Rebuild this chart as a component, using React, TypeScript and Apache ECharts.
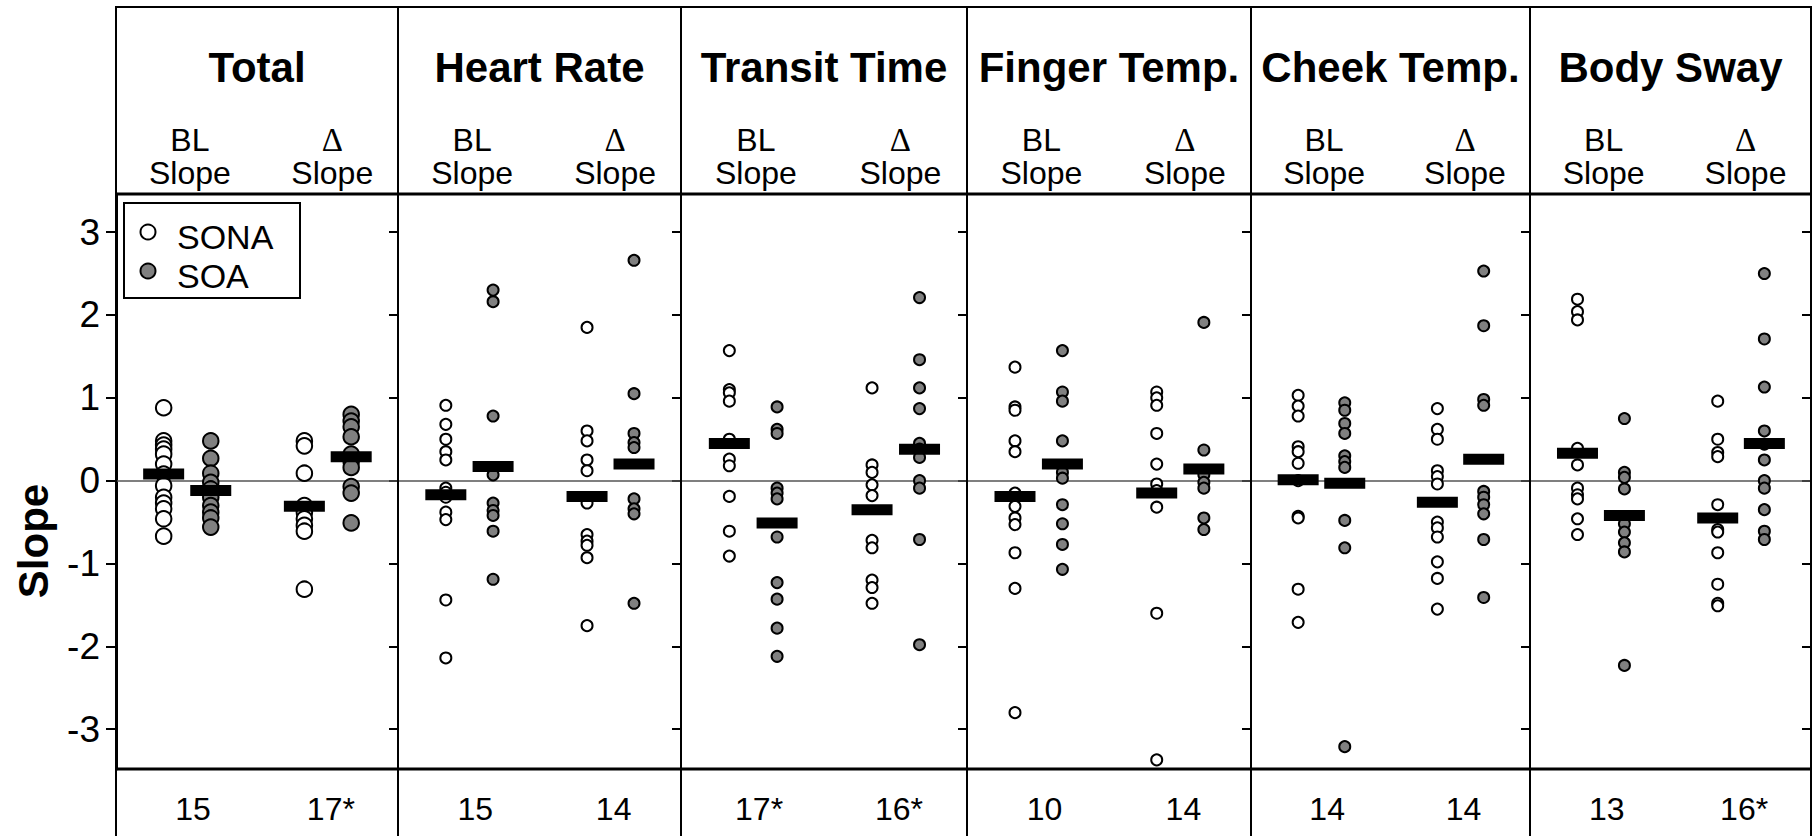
import React, { useEffect, useRef } from 'react';
import * as echarts from 'echarts';

// ---------------- data ----------------
const PANELS = ['Total', 'Heart Rate', 'Transit Time', 'Finger Temp.', 'Cheek Temp.', 'Body Sway'];
const GROUPS = ['SONA', 'SOA'];
const COLUMN_HEADS = ['BL', 'Δ'];
const COLUMN_SUB = 'Slope';
const Y_NAME = 'Slope';
const Y_TICKS = [-3, -2, -1, 0, 1, 2, 3];
const COUNTS = [
  ['15', '17*'],
  ['15', '14'],
  ['17*', '16*'],
  ['10', '14'],
  ['14', '14'],
  ['13', '16*'],
];

const BL_SONA = [
  [0.88, 0.48, 0.43, 0.38, 0.32, 0.2, 0.08, -0.06, -0.2, -0.27, -0.34, -0.46, -0.67],
  [0.91, 0.68, 0.5, 0.35, 0.25, -0.09, -0.14, -0.2, -0.38, -0.47, -1.44, -2.14],
  [1.57, 1.1, 1.06, 0.96, 0.5, 0.26, 0.18, -0.19, -0.61, -0.91],
  [1.37, 0.89, 0.85, 0.48, 0.35, -0.15, -0.31, -0.45, -0.53, -0.87, -1.3, -2.8],
  [1.03, 0.9, 0.78, 0.41, 0.35, 0.21, 0.0, -0.43, -0.45, -1.31, -1.71],
  [2.19, 2.04, 1.94, 0.39, 0.19, -0.09, -0.17, -0.22, -0.46, -0.65],
];
const BL_SOA = [
  [0.48, 0.27, 0.09, -0.02, -0.1, -0.2, -0.3, -0.38, -0.45, -0.56],
  [2.3, 2.16, 0.78, 0.07, -0.27, -0.36, -0.42, -0.61, -1.19],
  [0.89, 0.62, 0.57, -0.09, -0.15, -0.22, -0.68, -1.23, -1.43, -1.78, -2.12],
  [1.57, 1.07, 0.96, 0.48, 0.1, 0.03, -0.29, -0.52, -0.77, -1.07],
  [0.94, 0.85, 0.69, 0.57, 0.3, 0.23, 0.16, -0.48, -0.81, -3.21],
  [0.75, 0.1, 0.04, -0.1, -0.52, -0.62, -0.75, -0.86, -2.23],
];
const DELTA_SONA = [
  [0.48, 0.42, 0.09, -0.3, -0.38, -0.46, -0.54, -0.61, -1.31],
  [1.85, 0.6, 0.48, 0.25, 0.12, -0.27, -0.65, -0.73, -0.78, -0.93, -1.75],
  [1.12, 0.19, 0.1, -0.05, -0.18, -0.72, -0.81, -1.2, -1.29, -1.48],
  [1.07, 1.0, 0.91, 0.57, 0.2, -0.04, -0.12, -0.32, -1.6, -3.37],
  [0.87, 0.62, 0.5, 0.12, 0.05, -0.04, -0.5, -0.57, -0.68, -0.98, -1.18, -1.55],
  [0.96, 0.5, 0.34, 0.29, -0.29, -0.59, -0.62, -0.87, -1.25, -1.48, -1.51],
];
const DELTA_SOA = [
  [0.8, 0.72, 0.65, 0.53, 0.32, 0.23, 0.16, -0.07, -0.15, -0.51],
  [2.66, 1.05, 0.57, 0.46, 0.4, -0.22, -0.34, -0.4, -1.48],
  [2.21, 1.46, 1.12, 0.87, 0.45, 0.38, 0.28, 0.0, -0.09, -0.71, -1.98],
  [1.91, 0.37, 0.07, -0.02, -0.09, -0.45, -0.59],
  [2.53, 1.87, 0.98, 0.91, -0.13, -0.2, -0.29, -0.4, -0.71, -1.41],
  [2.5, 1.71, 1.13, 0.6, 0.44, 0.25, 0.0, -0.09, -0.35, -0.61, -0.71],
];
// group means: [BL SONA, BL SOA, Δ SONA, Δ SOA]
const MEANS = [
  [0.08, -0.12, -0.31, 0.29],
  [-0.17, 0.17, -0.19, 0.2],
  [0.45, -0.51, -0.35, 0.38],
  [-0.19, 0.2, -0.15, 0.14],
  [0.01, -0.03, -0.26, 0.26],
  [0.33, -0.42, -0.45, 0.45],
];

// ---------------- layout ----------------
const W = 1818;
const H = 836;
const EDGES = [116, 398, 681, 967, 1251, 1530, 1811];
const FRAME_TOP = 7;
const PLOT_TOP = 194;
const PLOT_BOTTOM = 769;
const Y_MIN = -3.48;
const Y_MAX = 3.46;
const COL_X = [0.169, 0.336, 0.668, 0.834];
const HEAD_X = [0.262, 0.767];
const COUNT_X = [0.273, 0.762];
const FONT = '"Liberation Sans", Arial, Helvetica, sans-serif';
const SERIF = '"Liberation Serif", "DejaVu Serif", serif';
const GRAY = '#808080';

function buildOption() {
  const grid: any[] = [];
  const xAxis: any[] = [];
  const yAxis: any[] = [];
  const series: any[] = [];
  const elements: any[] = [];

  PANELS.forEach((title, i) => {
    const left = EDGES[i];
    const width = EDGES[i + 1] - EDGES[i];
    grid.push({ left, top: PLOT_TOP, width, height: PLOT_BOTTOM - PLOT_TOP, containLabel: false, outerBoundsMode: 'none' });
    xAxis.push({ gridIndex: i, type: 'value', min: 0, max: 1, show: false });
    yAxis.push({
      gridIndex: i,
      type: 'value',
      position: 'left',
      min: Y_MIN,
      max: Y_MAX,
      splitNumber: 7,
      show: i === 0,
      axisLine: { show: true, lineStyle: { color: '#000', width: 3 } },
      axisTick: { show: true, inside: false, length: 10, lineStyle: { color: '#000', width: 2 }, customValues: Y_TICKS },
      axisLabel: {
        show: true,
        margin: 16,
        color: '#000',
        fontSize: 37,
        fontFamily: FONT,
        customValues: Y_TICKS,
        formatter: (v: number) => (Math.abs(v - Math.round(v)) < 1e-6 ? String(Math.round(v)) : ''),
      },
      splitLine: { show: false },
    });
    yAxis.push({
      gridIndex: i,
      type: 'value',
      position: 'right',
      min: Y_MIN,
      max: Y_MAX,
      splitNumber: 7,
      axisLine: { show: false },
      axisTick: { show: true, inside: true, length: 9, lineStyle: { color: '#000', width: 2 }, customValues: Y_TICKS },
      axisLabel: { show: false },
      splitLine: { show: false },
    });
    const yIdx = i * 2;
    const size = i === 0 ? 15.5 : 11;
    series.push({
      type: 'scatter',
      name: GROUPS[0],
      xAxisIndex: i,
      yAxisIndex: yIdx,
      symbol: 'circle',
      symbolSize: size,
      silent: true,
      z: 3,
      itemStyle: { color: '#fff', borderColor: '#000', borderWidth: 2, opacity: 1 },
      data: [
        ...BL_SONA[i].map((v) => [COL_X[0], v]),
        ...DELTA_SONA[i].map((v) => [COL_X[2], v]),
      ],
      markLine: {
        silent: true,
        z: 1,
        symbol: ['none', 'none'],
        label: { show: false },
        lineStyle: { color: '#555', width: 1.5, type: 'solid' },
        data: [{ yAxis: 0 }],
      },
    });
    series.push({
      type: 'scatter',
      name: GROUPS[1],
      xAxisIndex: i,
      yAxisIndex: yIdx,
      symbol: 'circle',
      symbolSize: size,
      silent: true,
      z: 3,
      itemStyle: { color: GRAY, borderColor: '#000', borderWidth: 2, opacity: 1 },
      data: [
        ...BL_SOA[i].map((v) => [COL_X[1], v]),
        ...DELTA_SOA[i].map((v) => [COL_X[3], v]),
      ],
    });
    series.push({
      type: 'scatter',
      name: 'Mean',
      xAxisIndex: i,
      yAxisIndex: yIdx,
      symbol: 'rect',
      symbolSize: [41, 11],
      silent: true,
      z: 4,
      itemStyle: { color: '#000', opacity: 1 },
      data: MEANS[i].map((v, k) => [COL_X[k], v]),
    });

    // panel title
    elements.push({
      type: 'text',
      z: 20,
      style: {
        text: title,
        x: left + width / 2,
        y: 67,
        fill: '#000',
        fontSize: 42,
        fontWeight: 'bold',
        fontFamily: FONT,
        align: 'center',
        verticalAlign: 'middle',
        textAlign: 'center',
        textVerticalAlign: 'middle',
      },
    });
    // column heads (two-line rich text)
    COLUMN_HEADS.forEach((h, k) => {
      const cx = left + width * HEAD_X[k];
      elements.push({
        type: 'text',
        z: 20,
        style: {
          text: `{h|${h}}\n{s|${COLUMN_SUB}}`,
          x: cx,
          y: 156,
          fill: '#000',
          fontSize: 32,
          fontFamily: FONT,
          align: 'center',
          verticalAlign: 'middle',
          textAlign: 'center',
          textVerticalAlign: 'middle',
          rich: {
            h: {
              fontSize: k === 0 ? 32 : 33,
              fontFamily: k === 0 ? FONT : SERIF,
              lineHeight: 33,
              fill: '#000',
              color: '#000',
              align: 'center',
            },
            s: { fontSize: 32, fontFamily: FONT, lineHeight: 33, fill: '#000', color: '#000', align: 'center' },
          },
        },
      });
      elements.push({
        type: 'text',
        z: 20,
        style: {
          text: COUNTS[i][k],
          x: left + width * COUNT_X[k],
          y: 809,
          fill: '#000',
          fontSize: 32,
          fontFamily: FONT,
          align: 'center',
          verticalAlign: 'middle',
          textAlign: 'center',
          textVerticalAlign: 'middle',
        },
      });
    });
  });

  // frame lines
  const line = (x1: number, y1: number, x2: number, y2: number, w: number) => ({
    type: 'line',
    z: 30,
    silent: true,
    shape: { x1, y1, x2, y2 },
    style: { stroke: '#000', lineWidth: w },
  });
  elements.push(line(EDGES[0], FRAME_TOP, EDGES[6], FRAME_TOP, 2));
  elements.push(line(EDGES[0], PLOT_TOP, EDGES[6], PLOT_TOP, 3));
  elements.push(line(EDGES[0], PLOT_BOTTOM, EDGES[6], PLOT_BOTTOM, 3));
  EDGES.forEach((x) => elements.push(line(x, FRAME_TOP - 1, x, H, 2)));

  // y-axis title
  elements.push({
    type: 'text',
    z: 20,
    x: 33,
    y: 541,
    rotation: Math.PI / 2,
    style: {
      text: Y_NAME,
      x: 0,
      y: 0,
      fill: '#000',
      fontSize: 42,
      fontWeight: 'bold',
      fontFamily: FONT,
      align: 'center',
      verticalAlign: 'middle',
      textAlign: 'center',
      textVerticalAlign: 'middle',
    },
  });

  // legend box
  elements.push({
    type: 'rect',
    z: 25,
    shape: { x: 124, y: 203, width: 176, height: 95 },
    style: { fill: '#fff', stroke: '#000', lineWidth: 2 },
  });
  GROUPS.forEach((g, k) => {
    const cy = k === 0 ? 232 : 271;
    elements.push({
      type: 'circle',
      z: 26,
      shape: { cx: 148, cy, r: 7.5 },
      style: { fill: k === 0 ? '#fff' : GRAY, stroke: '#000', lineWidth: 2 },
    });
    elements.push({
      type: 'text',
      z: 26,
      style: {
        text: g,
        x: 177,
        y: cy + 5,
        fill: '#000',
        fontSize: 34,
        fontFamily: FONT,
        align: 'left',
        verticalAlign: 'middle',
        textAlign: 'left',
        textVerticalAlign: 'middle',
      },
    });
  });

  return {
    animation: false,
    backgroundColor: '#fff',
    textStyle: { fontFamily: FONT },
    grid,
    xAxis,
    yAxis,
    series,
    graphic: { elements },
  };
}

export default function App() {
  const ref = useRef<HTMLDivElement>(null);
  useEffect(() => {
    document.body.style.margin = '0';
    if (!ref.current) return;
    const chart = echarts.init(ref.current, undefined, { renderer: 'svg', width: W, height: H });
    chart.setOption(buildOption() as any);
    return () => chart.dispose();
  }, []);
  return <div ref={ref} style={{ width: W, height: H }} />;
}
